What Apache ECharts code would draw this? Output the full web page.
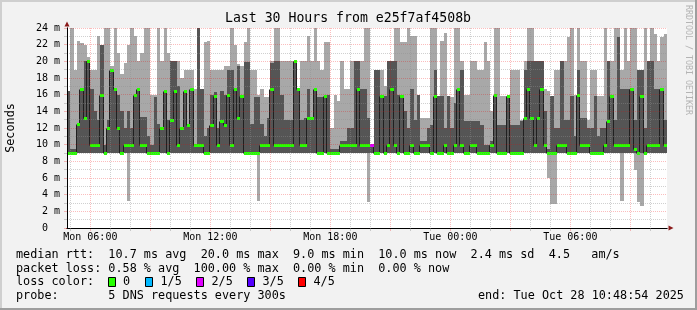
<!DOCTYPE html>
<html><head><meta charset="utf-8">
<script src="https://cdn.jsdelivr.net/npm/echarts@6/dist/echarts.min.js"></script>
<style>html,body{margin:0;padding:0;background:#f2f2f2}#c{width:697px;height:310px}</style>
</head><body><div id="c"></div>
<script>
// ---- time categories: 10-minute steps from Mon 04:50 to Tue 10:50 ----
const startMinute = 4 * 60 + 50;
const stepMinutes = 10;
const sampleCount = 181;
const categories = [];
for (let k = 0; k < sampleCount; k++) {
  const t = startMinute + stepMinutes * k;
  const day = t >= 1440 ? 'Tue' : 'Mon';
  const h = Math.floor(t / 60) % 24, m = t % 60;
  categories.push(day + ' ' + String(h).padStart(2, '0') + ':' + String(m).padStart(2, '0'));
}
const tickLabels = ['Mon 06:00', 'Mon 12:00', 'Mon 18:00', 'Tue 00:00', 'Tue 06:00'];
const yTickLabels = ['0  ', '2 m', '4 m', '6 m', '8 m', '10 m', '12 m', '14 m', '16 m', '18 m', '20 m', '22 m', '24 m'];

// ---- median rtt (ms) ----
const median = [
  9,9,9,12.5,16.7,13.2,20,10,10,10,16,9,12,19,16.7,12,9,10,10,10,16,16.7,10,10,9,9,9,9,12,16.5,9,13,16.5,10,12,16.5,
  12.3,16.7,10,10,10,9,9,12.3,15.8,10,12.9,12.3,16,10,16.7,13.2,15.8,9,9,9,9,9,10,10,10,16.7,10,10,10,10,10,10,20,16.7,10,10,
  13.2,13.2,16.7,9,9,15.8,9,9,9,9,10,10,10,10,10,16.7,10,10,10,10,9,9,15.8,9,10,16.7,10,9,15.8,9,9,10,9,9,10,10,
  10,9,15.8,9,9,10,9,9,10,16.7,10,9,9,10,10,9,9,9,9,10,16,9,9,9,15.8,9,9,9,9,13.2,16.7,13.2,10,13.2,16.7,10,
  9,9,9,10,10,10,9,9,9,16,10,10,10,9,9,9,9,10,12.9,15.8,10,10,10,10,10,16.7,9.5,9,15.8,9,10,10,10,10,16.7,10,10
];
// ---- smoke: lowest ping ----
const pingMin = [
  9,9,9,9,9,9,9,9,9,9,9,9,9,9,9,9,9,9,3.2,9,9,9,9,9,9,9,9,9,9,9,9,9,9,9,9,9,
  9,9,9,9,9,9,9,9,9,9,9,9,9,9,9,9,9,9,9,9,9,3.2,9,9,9,9,9,9,9,9,9,9,9,9,9,9,
  9,9,9,9,9,9,9,9,9,9,9,9,9,9,9,9,9,9,3.1,9,9,9,9,9,9,9,9,9,9,9,9,9,9,9,9,9,
  9,9,9,9,9,9,9,9,9,9,9,9,9,9,9,9,9,9,9,9,9,9,9,9,9,9,9,9,9,9,9,9,9,9,9,9,
  6,2.9,2.9,9,9,9,9,9,9,9,9,9,9,9,9,9,9,9,9,9,9,9,3.2,9,9,9,7,3.1,2.7,9,9,9,9,9,9,9,9
];
// ---- smoke: second ping (bottom of dark band) ----
const ping2 = [
  9,9,9,9,9,9,9,9,9,9,9,9,9,9,9,9,9,9,9,9,9,9,9,9,9,9,9,9,9,9,9,9,9,9,9,9,
  9,9,9,9,9,9,9,9,9,9,9,9,9,9,9,9,9,9,9,9,9,9,9,9,9,9,9,9,9,9,9,9,9,9,9,9,
  9,9,9,9,9,9,9,9,9,9,9,9,9,9,9,9,9,9,9,9,9,9,9,9,9,9,9,9,9,9,9,9,9,9,9,9,
  9,9,9,9,9,9,9,9,9,9,9,9,9,9,9,9,9,9,9,9,9,9,9,9,9,9,9,9,9,9,9,9,9,9,9,9,
  9,9,9,9,9,9,9,9,9,9,9,9,9,9,9,9,9,9,9,9,9,9,9,9,9,9,9,9,9,9,9,9,9,9,9,9,9
];
// ---- smoke: fourth ping (top of dark band) ----
const ping4 = [
  16.5,9.5,9.5,12.5,16.7,20,20,16.7,14,13,22,10,13,19,16.7,16,14,12,14,12,16,16.7,13.3,13.3,11,10,15.7,12.5,12,16.5,13,20,20,17,12,16.5,
  12.3,16.7,10,24,16.7,11,12,16,16.3,12,16.5,16,19,19,16.7,19.5,15.8,19.9,19.9,12.5,15.7,15.7,12.5,11,13.2,19.8,20,20,16,13,13,13,20,16.7,13,13.2,
  16.7,13.2,16.7,15.7,15.7,15.8,16,9.5,9.5,9.5,10.5,10.5,12,12,20,20,16.7,16.7,13.2,10,19,19,16,15.8,20,20,20,16,15.8,14,12,16.7,13,16,10.5,10.5,
  12,12.3,19,15.8,15.8,12,15.8,12,15,16.7,19,12.9,12.9,12.9,12.9,12.9,12.3,10,10,10.5,16,12.3,12.3,12.3,15.8,12.3,12.3,12.3,12.9,19,20,20,20,20,20,14,
  9.5,15.8,12,12,20,13,13,15.8,11,19,13.2,13.2,12,12,15.8,11,12,12,20,15.8,13,22.9,16.7,16.7,16.7,16.7,13,19,19,12,20,20,16.7,16.7,16.7,13,13
];
// ---- smoke: highest ping ----
const pingMax = [
  16.5,24,19,22.5,22.2,22,20.5,19,19,23,22,24,24,19.5,24,21,18.5,19.8,22,24,23,20,21,24,24,16,16,24,20,24,21,20,20,20,18,19,
  19,19,16.7,24,16.7,22.3,22.5,19,19,19,19,19.4,19.4,24,22,19.7,19.5,22.3,24,19,19,16,16.7,15.7,15.7,20,24,24,20,20,20,20,20,16.7,20,20,
  23,20,24,20,19,22.3,22.3,12,16,15.2,20,16.7,16.7,20,20,20,20,24,24,10,19,19,19,17,20,20,24,24,22.3,22.3,24,23.1,23,16,13.2,13.2,
  13.2,24,24,15.8,22.5,23.4,15.8,15.7,24,24,20,16,16,20,20,19,19,22.3,20,14,24,24,15.8,15.8,16,19,19,19,13,20,24,24,20,20,20,16.7,
  16.5,15.8,19,19,20,20,22.9,24,16,24,20,20,13,19,19,15.8,15.8,24,20,20,24,24,19,24,20,24,24,19,19,24,20,24,23.3,20,22.9,23.3,23.3
];
// ---- packet loss events (sample index, lost pings out of 5) ----
const lossIndex = [91];
const lossLevel = [2];
const lossColors = ['#26ff00', '#00b8ff', '#e000ff', '#5500ff', '#ff0000'];
const lossLabels = ['0', '1/5', '2/5', '3/5', '4/5'];

// ---- build series data ----
const smokeData = [], medData = [], bandData = [];
for (let i = 0; i < sampleCount - 1; i++) {
  smokeData.push([i, pingMin[i], ping2[i], ping4[i], pingMax[i]]);
  medData.push([i, median[i], median[i + 1]]);
  const li = lossIndex.indexOf(i);
  bandData.push([i, median[i], li >= 0 ? lossLevel[li] : 0]);
}

const MONO = '"DejaVu Sans Mono", monospace';
const isHour = v => v.endsWith(':00');
const hourOf = v => +v.slice(4, 6);

function px(api, i, v) { const p = api.coord([i, v]); return [Math.round(p[0]), Math.round(p[1])]; }

const chart = echarts.init(document.getElementById('c'), null, {renderer: 'canvas'});
const legendY = [254.5, 268.5, 282, 296];
const legendText = [
  'median rtt:  10.7 ms avg  20.0 ms max  9.0 ms min  10.0 ms now  2.4 ms sd  4.5   am/s',
  'packet loss: 0.58 % avg  100.00 % max  0.00 % min  0.00 % now',
  'loss color:',
  'probe:       5 DNS requests every 300s'
];
const squareX = [108.5, 145.5, 196.5, 247.5, 298.5];
const labelX = [123, 160.5, 211.5, 262.5, 313.5];
const graphics = [];
legendText.forEach((t, k) => graphics.push({type: 'text', x: 16, y: legendY[k], z: 50,
  style: {text: t, font: '11.8px ' + MONO, fill: '#000', align: 'left', verticalAlign: 'middle'}}));
lossLabels.forEach((t, k) => {
  graphics.push({type: 'rect', z: 50, shape: {x: squareX[k], y: 277.5, width: 7, height: 9},
    style: {fill: lossColors[k], stroke: '#000', lineWidth: 1}});
  graphics.push({type: 'text', x: labelX[k], y: legendY[2], z: 50,
    style: {text: t, font: '11.8px ' + MONO, fill: '#000', align: 'left', verticalAlign: 'middle'}});
});
graphics.push({type: 'text', x: 478, y: legendY[3], z: 50,
  style: {text: 'end: Tue Oct 28 10:48:54 2025', font: '11.8px ' + MONO, fill: '#000', align: 'left', verticalAlign: 'middle'}});
graphics.push({type: 'text', x: 348, y: 19, z: 50,
  style: {text: 'Last 30 Hours from e25f7af4508b', font: '13.2px ' + MONO, fill: '#000', align: 'center', verticalAlign: 'middle'}});
graphics.push({type: 'text', x: 11, y: 128, rotation: Math.PI / 2, z: 50,
  style: {text: 'Seconds', font: '11.8px ' + MONO, fill: '#000', align: 'center', verticalAlign: 'middle'}});
graphics.push({type: 'text', x: 688, y: 60, rotation: -Math.PI / 2, z: 50,
  style: {text: 'RRDTOOL / TOBI OETIKER', font: '8.3px ' + MONO, fill: '#b4b4b4', align: 'center', verticalAlign: 'middle'}});
// frame
graphics.push({type: 'rect', z: 60, shape: {x: 0, y: 0, width: 697, height: 2}, style: {fill: '#cfcfcf'}});
graphics.push({type: 'rect', z: 60, shape: {x: 0, y: 0, width: 2, height: 310}, style: {fill: '#cfcfcf'}});
graphics.push({type: 'rect', z: 60, shape: {x: 695, y: 0, width: 2, height: 310}, style: {fill: '#9e9e9e'}});
graphics.push({type: 'rect', z: 60, shape: {x: 0, y: 308, width: 697, height: 2}, style: {fill: '#9e9e9e'}});

const GRAY = 'rgba(143,143,143,0.42)';
const RED = 'rgba(240,0,0,0.26)';

chart.setOption({
  animation: false,
  backgroundColor: '#f2f2f2',
  grid: {left: 67, top: 28, width: 600, height: 200, show: true, backgroundColor: '#ffffff', borderWidth: 0, containLabel: false, outerBoundsMode: 'none'},
  xAxis: [
    {type: 'category', data: categories, boundaryGap: false, position: 'bottom', z: 10,
      axisLine: {show: true, onZero: false, lineStyle: {color: '#000', width: 1}},
      axisTick: {show: true, inside: false, length: 3, interval: (i, v) => isHour(v) && hourOf(v) % 3 !== 0, lineStyle: {color: GRAY}},
      axisLabel: {show: true, interval: (i, v) => tickLabels.indexOf(v) >= 0, fontFamily: MONO, fontSize: 10, color: '#000', margin: 4},
      splitLine: {show: true, interval: (i, v) => isHour(v) && hourOf(v) % 3 !== 0, lineStyle: {color: GRAY, type: [1, 1], width: 1}}},
    {type: 'category', data: categories, boundaryGap: false, position: 'top', offset: -200, z: 9,
      axisLine: {show: true, onZero: false, symbol: ['none', 'triangle'], symbolSize: [5, 5], symbolOffset: [0, 4], lineStyle: {color: '#8b1a1a', width: 1}},
      axisTick: {show: true, inside: true, length: 3, interval: (i, v) => isHour(v) && hourOf(v) % 3 === 0, lineStyle: {color: RED}},
      axisLabel: {show: false},
      splitLine: {show: true, interval: (i, v) => isHour(v) && hourOf(v) % 3 === 0, lineStyle: {color: RED, type: [1, 1], width: 1}}}
  ],
  yAxis: [
    {type: 'value', min: 0, max: 24, interval: 2, position: 'left', z: 10,
      axisLine: {show: true, onZero: false, lineStyle: {color: '#000', width: 1}},
      axisTick: {show: true, length: 3, lineStyle: {color: RED}},
      minorTick: {show: true, splitNumber: 2, length: 3, lineStyle: {color: GRAY}},
      axisLabel: {show: true, fontFamily: MONO, fontSize: 10, color: '#000', margin: 7, formatter: (v) => yTickLabels[Math.round(v / 2)]},
      splitLine: {show: true, lineStyle: {color: RED, type: [1, 1], width: 1}},
      minorSplitLine: {show: true, lineStyle: {color: GRAY, type: [1, 1], width: 1}}},
    {type: 'value', min: 0, max: 24, interval: 2, position: 'right', offset: -600, z: 9,
      axisLine: {show: true, onZero: false, symbol: ['none', 'triangle'], symbolSize: [5, 5], symbolOffset: [0, 4], lineStyle: {color: '#8b1a1a', width: 1}},
      axisTick: {show: false}, axisLabel: {show: false}, splitLine: {show: false}}
  ],
  graphic: {elements: graphics},
  series: [
    {type: 'custom', name: 'smoke', coordinateSystem: 'cartesian2d', xAxisIndex: 0, yAxisIndex: 0, z: 1, silent: true,
      data: smokeData, encode: {x: 0, y: [1, 2, 3, 4]},
      renderItem: (params, api) => {
        const i = api.value(0);
        const a = px(api, i, api.value(1)), b = px(api, i, api.value(2)), c = px(api, i, api.value(3)), d = px(api, i, api.value(4));
        const x1 = px(api, i + 1, 0)[0];
        return {type: 'group', children: [
          {type: 'rect', shape: {x: a[0], y: d[1], width: x1 - a[0], height: a[1] - d[1]}, style: {fill: '#a8a8a8'}},
          {type: 'rect', shape: {x: a[0], y: c[1], width: x1 - a[0], height: b[1] - c[1]}, style: {fill: '#555555'}}
        ]};
      }},
    {type: 'custom', name: 'median', coordinateSystem: 'cartesian2d', xAxisIndex: 0, yAxisIndex: 0, z: 2, silent: true,
      data: medData, encode: {x: 0, y: [1, 2]},
      renderItem: (params, api) => {
        const i = api.value(0);
        const a = px(api, i, api.value(1)), b = px(api, i + 1, api.value(2));
        return {type: 'polyline', shape: {points: [[a[0], a[1] + 0.5], [b[0] - 0.5, a[1] + 0.5], [b[0] - 0.5, b[1] + 0.5]]},
          style: {stroke: '#202020', lineWidth: 1, fill: null}};
      }},
    {type: 'custom', name: 'loss', coordinateSystem: 'cartesian2d', xAxisIndex: 0, yAxisIndex: 0, z: 3, silent: true,
      data: bandData, encode: {x: 0, y: 1},
      renderItem: (params, api) => {
        const i = api.value(0);
        const a = px(api, i, api.value(1)), x1 = px(api, i + 1, 0)[0];
        return {type: 'rect', shape: {x: a[0], y: a[1] - 1, width: x1 - a[0], height: 3}, style: {fill: lossColors[api.value(2)]}};
      }}
  ]
});
</script></body></html>
